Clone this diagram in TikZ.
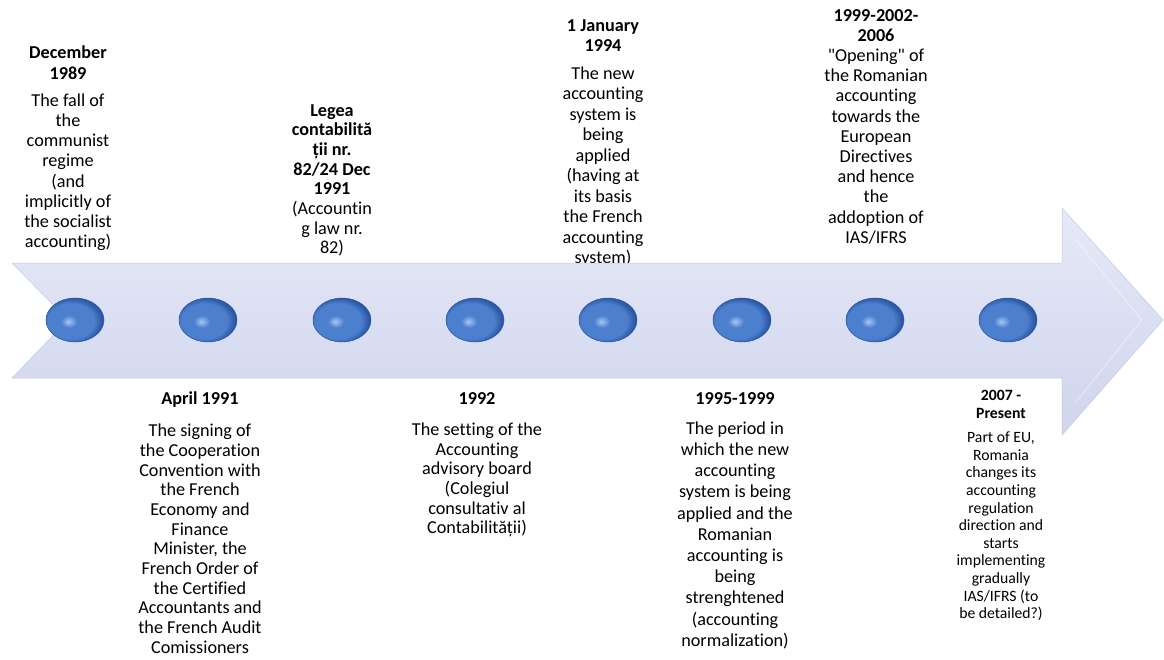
\documentclass[tikz,border=0pt]{standalone}
\usepackage{fontspec}
\setmainfont{Carlito}[Ligatures=NoCommon]
\usetikzlibrary{shapes.geometric}
\newcommand{\plainquote}{\XeTeXglyph\XeTeXcharglyph"22\relax}
\definecolor{arrowtop}{HTML}{E6E9F7}
\definecolor{arrowbot}{HTML}{D0D5ED}
\definecolor{arrowedge}{HTML}{C3C9E4}
\definecolor{dotlight}{HTML}{A9C6F0}
\definecolor{dotmid}{HTML}{4C80CF}
\definecolor{dotdark}{HTML}{2C58A3}
\pgfdeclareradialshading{dotshade}{\pgfpoint{-6bp}{-2bp}}{%
  color(0bp)=(dotlight); color(7bp)=(dotmid); color(20bp)=(dotmid);
  color(26bp)=(dotdark); color(50bp)=(dotdark)}
\tikzset{
    dot/.style={
    ellipse,minimum width=58pt,minimum height=44pt,inner sep=0pt,
    shading=dotshade,draw=dotdark,line width=0.5pt
    },
    event/.style={
    align=center,anchor=north,inner sep=0pt,font=\fontsize{18.2}{20.2}\selectfont
    },
    smallevent/.style={
    event,font=\fontsize{15.7}{17.6}\selectfont
    },
}
\begin{document}
\begin{tikzpicture}[x=1pt,y=-1pt]
   \useasboundingbox (0,0) rectangle (1164,659);

   % events above the arrow
   \node[event] (dec89) at (68,46) {\textbf{December}\\\textbf{1989}\\[7pt]
      The fall of\\the\\communist\\regime\\(and\\implicitly of\\the socialist\\accounting)};
   \node[event,font=\fontsize{18.2}{19.7}\selectfont] (legea) at (332,104) {\textbf{Legea}\\\textbf{contabilită}\\\textbf{ții nr.}\\\textbf{82/24 Dec}\\\textbf{1991}\\
      (Accountin\\g law nr.\\82)};
   \node[event,font=\fontsize{18.2}{20.5}\selectfont] (jan94) at (603,19) {\textbf{1 January}\\\textbf{1994}\\[7pt]
      The new\\accounting\\system is\\being\\applied\\(having at\\its basis\\the French\\accounting\\system)};
   \node[event] (open99) at (876,9) {\textbf{1999-2002-}\\\textbf{2006}\\
      \plainquote Opening\plainquote{} of\\the Romanian\\accounting\\towards the\\European\\Directives\\and hence\\the\\addoption of\\IAS/IFRS};

   % events below the arrow
   \node[event,font=\fontsize{18.2}{19.7}\selectfont] (apr91) at (200,392) {\textbf{April 1991}\\[12pt]
      The signing of\\the Cooperation\\Convention with\\the French\\Economy and\\Finance\\Minister, the\\French Order of\\the Certified\\Accountants and\\the French Audit\\Comissioners};
   \node[event,font=\fontsize{18.2}{19.6}\selectfont] (y92) at (477,392) {\textbf{1992}\\[12pt]
      The setting of the\\Accounting\\advisory board\\(Colegiul\\consultativ al\\Contabilității)};
   \node[event,font=\fontsize{18.2}{21.2}\selectfont] (y95) at (735,392) {\textbf{1995-1999}\\[9pt]
      The period in\\which the new\\accounting\\system is being\\applied and the\\Romanian\\accounting is\\being\\strenghtened\\(accounting\\normalization)};
   \node[smallevent] (y07) at (1001,390) {\textbf{2007 -}\\\textbf{Present}\\[7pt]
      Part of EU,\\Romania\\changes its\\accounting\\regulation\\direction and\\starts\\implementing\\gradually\\IAS/IFRS (to\\be detailed?)};

   % the time arrow
   \shade[top color=arrowtop,bottom color=arrowbot,draw=arrowedge,line width=0.5pt]
      (12,263) -- (1062,263) -- (1062,208) -- (1163,320) -- (1062,435)
      -- (1062,378) -- (12,378) -- (68,320) -- cycle;
   \draw[white,opacity=0.5,line width=0.8pt]
      (1076,240) -- (1142,320) -- (1076,402);

   % the dots on the arrow
   \foreach \x [count=\i] in {75,208,342,475,608,742,875,1008}
      \node[dot] (dot\i) at (\x,320) {};
\end{tikzpicture}
\end{document}
